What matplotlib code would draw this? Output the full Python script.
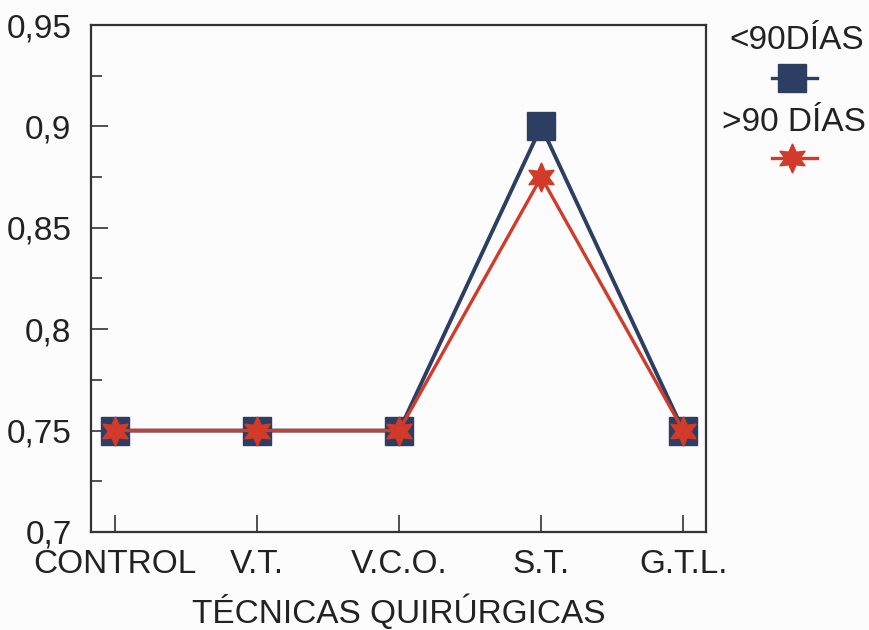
import matplotlib
matplotlib.use("Agg")
import matplotlib.pyplot as plt
from matplotlib.lines import Line2D
from matplotlib.ticker import MultipleLocator

plt.rcParams['font.family'] = ['Liberation Sans', 'DejaVu Sans']

categories = ["CONTROL", "V.T.", "V.C.O.", "S.T.", "G.T.L."]
menos_90 = [0.75, 0.75, 0.75, 0.90, 0.75]
mas_90 = [0.75, 0.75, 0.75, 0.875, 0.75]
y_ticks = [0.70, 0.75, 0.80, 0.85, 0.90, 0.95]
y_labels = ["0,7", "0,75", "0,8", "0,85", "0,9", "0,95"]
series_labels = ["<90DÍAS", ">90 DÍAS"]

BLUE = "#2c3f63"
RED = "#d23a2a"
STAR = (6, 1, 0)
TXT = "#222222"

fig = plt.figure(figsize=(8.7, 6.3), dpi=100, facecolor="#fcfcfc")
ax = fig.add_axes([0.1046, 0.1556, 0.7069, 0.8047], facecolor="#fcfcfc")

x = list(range(len(categories)))
ax.plot(x, menos_90, color=BLUE, lw=2.8, marker="s", ms=20,
        mfc=BLUE, mec=BLUE, zorder=3)
ax.plot(x, mas_90, color=RED, lw=2.4, marker=STAR, ms=21,
        mfc=RED, mec=RED, zorder=4)

ax.set_xlim(-0.17, 4.16)
ax.set_ylim(0.70, 0.95)
ax.set_xticks(x)
ax.set_xticklabels(categories, fontsize=24)
ax.set_yticks(y_ticks)
ax.set_yticklabels(y_labels, fontsize=24)
ax.yaxis.set_minor_locator(MultipleLocator(0.025))

ax.tick_params(axis="both", which="major", direction="in", length=12,
               width=1.2, color="#333333", labelcolor=TXT)
ax.tick_params(axis="y", which="major", pad=14)
ax.tick_params(axis="x", which="major", pad=12)
ax.tick_params(axis="y", which="minor", direction="in", length=8,
               width=1.2, color="#333333")
ax.tick_params(top=False, right=False)
for s in ax.spines.values():
    s.set_linewidth(1.6)
    s.set_color("#333333")

ax.set_xlabel("TÉCNICAS QUIRÚRGICAS", fontsize=24, color=TXT, labelpad=11)

# legend: each label sits above its marker, right of the plot
fig.text(0.916, 0.935, series_labels[0], fontsize=24, ha="center",
         va="center", color=TXT)
fig.add_artist(Line2D([0.887, 0.939], [0.876, 0.876], color=BLUE, lw=2.4,
                      transform=fig.transFigure))
fig.add_artist(Line2D([0.910], [0.876], color=BLUE, marker="s", ms=20,
                      mfc=BLUE, mec=BLUE, transform=fig.transFigure))
fig.text(0.913, 0.805, series_labels[1], fontsize=24, ha="center",
         va="center", color=TXT)
fig.add_artist(Line2D([0.887, 0.939], [0.749, 0.749], color=RED, lw=2.4,
                      transform=fig.transFigure))
fig.add_artist(Line2D([0.910], [0.749], color=RED, marker=STAR, ms=21,
                      mfc=RED, mec=RED, transform=fig.transFigure))

fig.savefig("out.png", dpi=100, facecolor=fig.get_facecolor())
